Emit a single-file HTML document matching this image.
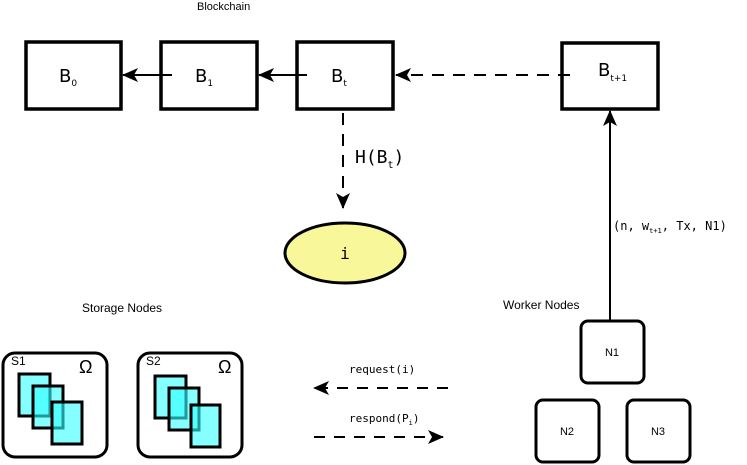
<!DOCTYPE html>
<html><head><style>body{margin:0;background:#fff}svg{display:block}</style></head><body>
<svg width="747" height="465" viewBox="0 0 747 465" xmlns="http://www.w3.org/2000/svg">
<defs>
<marker id="ah2" markerWidth="16" markerHeight="14" refX="15" refY="7" orient="auto" markerUnits="userSpaceOnUse"><path d="M0,0 L16,7 L0,14 L4,7 Z" fill="#000"/></marker>
</defs>
<g font-family="Liberation Sans, sans-serif" font-size="11" fill="#000">
<text x="197" y="10">Blockchain</text>
<text x="82" y="312" font-size="12">Storage Nodes</text>
<text x="503" y="309" font-size="12">Worker Nodes</text>
</g>
<g fill="#fff" stroke="#000" stroke-width="3.5">
<rect x="26" y="42" width="95" height="67"/>
<rect x="161" y="42" width="96" height="67"/>
<rect x="297" y="42" width="96" height="67"/>
<rect x="562" y="43" width="96" height="66"/>
</g>
<g font-family="DejaVu Sans, sans-serif" font-size="18">
<text x="59" y="82">B<tspan font-size="9" dy="4">0</tspan></text>
<text x="195" y="82">B<tspan font-size="9" dy="4">1</tspan></text>
<text x="331" y="82">B<tspan font-size="9" dy="4">t</tspan></text>
<text x="598" y="76">B<tspan font-size="9" dy="5">t+1</tspan></text>
</g>
<g stroke="#000" stroke-width="2" fill="none">
<line x1="172" y1="75" x2="123" y2="75" marker-end="url(#ah2)"/>
<line x1="307" y1="75" x2="259" y2="75" marker-end="url(#ah2)"/>
<line x1="570" y1="75" x2="396" y2="75" stroke-dasharray="12,9" marker-end="url(#ah2)"/>
<line x1="343" y1="113" x2="343" y2="208" stroke-dasharray="12,9" marker-end="url(#ah2)"/>
<line x1="610" y1="322" x2="610" y2="111" marker-end="url(#ah2)"/>
<line x1="448" y1="388" x2="314" y2="388" stroke-dasharray="11,9" marker-end="url(#ah2)"/>
<line x1="314" y1="437" x2="443" y2="437" stroke-dasharray="11,9" marker-end="url(#ah2)"/>
</g>
<text x="355" y="163" font-family="DejaVu Sans Mono, monospace" font-size="18">H(B<tspan font-size="10" dy="5">t</tspan><tspan dy="-5">)</tspan></text>
<ellipse cx="345" cy="253" rx="60" ry="30" fill="#f8f89a" stroke="#000" stroke-width="3"/>
<text x="345" y="259" text-anchor="middle" font-family="DejaVu Sans Mono, monospace" font-size="16">i</text>
<text x="613" y="230" font-family="DejaVu Sans Mono, monospace" font-size="12">(n, w<tspan font-size="7" dy="3">t+1</tspan><tspan dy="-3">, Tx, N1)</tspan></text>
<g font-family="DejaVu Sans Mono, monospace" font-size="11">
<text x="349" y="373">request(i)</text>
<text x="349" y="422">respond(P<tspan font-size="7" dy="3">i</tspan><tspan dy="-3">)</tspan></text>
</g>
<g fill="#fff" stroke="#000" stroke-width="3">
<rect x="581" y="321" width="63" height="62" rx="7"/>
<rect x="536" y="400" width="63" height="62" rx="7"/>
<rect x="627" y="400" width="63" height="62" rx="7"/>
<rect x="3" y="353" width="104" height="104" rx="12"/>
<rect x="138" y="353" width="104" height="104" rx="12"/>
</g>
<g font-family="Liberation Sans, sans-serif" font-size="11" text-anchor="middle">
<text x="612" y="356">N1</text>
<text x="567" y="435">N2</text>
<text x="658" y="435">N3</text>
</g>
<g font-family="Liberation Sans, sans-serif">
<text x="11" y="365" font-size="12">S1</text>
<text x="146" y="365" font-size="12">S2</text>
<text x="79" y="373" font-size="18">Ω</text>
<text x="218" y="373" font-size="18">Ω</text>
</g>
<g stroke="#000" stroke-width="3" fill="#33ffff" fill-opacity="0.6">
<rect x="19" y="374" width="31" height="42"/>
<rect x="33" y="386" width="30" height="42"/>
<rect x="52" y="402" width="30" height="42"/>
<rect x="155" y="376" width="31" height="42"/>
<rect x="169" y="388" width="30" height="42"/>
<rect x="191" y="405" width="29" height="42"/>
</g>
</svg>
</body></html>
